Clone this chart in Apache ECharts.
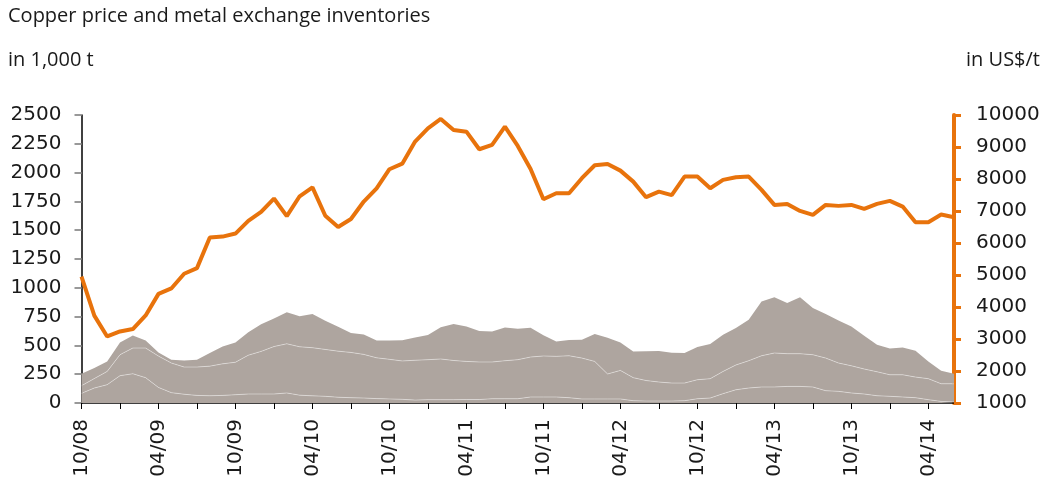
<!DOCTYPE html>
<html>
<head>
<meta charset="utf-8">
<script src="https://cdn.jsdelivr.net/npm/echarts@6/dist/echarts.min.js"></script>
<style>
  html, body { margin: 0; padding: 0; background: #fff; }
  #chart { width: 1047px; height: 482px; }
</style>
</head>
<body>
<div id="chart"></div>
<script>
// months 10/08 .. 06/14
var months = [];
for (var i = 0; i < 69; i++) {
  var m = (9 + i) % 12 + 1;
  var y = 8 + Math.floor((9 + i) / 12);
  months.push((m < 10 ? '0' + m : '' + m) + '/' + (y < 10 ? '0' + y : '' + y));
}

// inventories, 1,000 t (three stacked exchanges, bottom to top)
var stockLayer1 = [84, 130, 159, 237, 254, 220, 135, 90, 76, 66, 63, 66, 72, 78, 78, 78, 87, 68, 62, 58,
  50, 46, 43, 38, 35, 32, 25, 29, 29, 29, 30, 30, 37, 37, 37, 52, 52, 52, 46, 35,
  35, 35, 35, 20, 17, 17, 17, 20, 37, 43, 81, 115, 130, 139, 139, 144, 144, 139, 107, 101,
  87, 78, 63, 58, 52, 46, 29, 14, 9];
var stockLayer2 = [66, 82, 115, 182, 223, 257, 272, 257, 236, 246, 257, 274, 282, 337, 370, 412, 427, 420, 418, 407,
  400, 393, 379, 354, 344, 333, 346, 347, 353, 340, 331, 326, 319, 330, 339, 347, 356, 353, 364, 355,
  326, 217, 248, 200, 178, 165, 156, 153, 165, 168, 193, 215, 237, 271, 295, 284, 284, 280, 283, 246,
  236, 217, 208, 187, 193, 179, 182, 153, 158];
var stockLayer3 = [104, 91, 87, 107, 109, 66, 32, 29, 57, 64, 114, 151, 172, 199, 236, 244, 274, 266, 293, 250,
  212, 168, 173, 150, 164, 180, 197, 215, 275, 316, 303, 268, 264, 289, 268, 254, 181, 129, 136, 158,
  239, 315, 243, 228, 255, 269, 264, 260, 284, 301, 318, 320, 355, 471, 485, 439, 491, 405, 382, 369,
  341, 289, 235, 229, 237, 228, 150, 113, 87];

// copper price, US$/t
var copperPrice = [4950, 3730, 3080, 3235, 3310, 3735, 4410, 4580, 5040, 5215, 6170, 6200, 6295, 6690, 6970, 7390, 6840, 7460, 7740, 6850,
  6500, 6750, 7295, 7710, 8305, 8480, 9170, 9585, 9876, 9532, 9479, 8930, 9064, 9636, 9033, 8315, 7369, 7556, 7556, 8025,
  8430, 8471, 8262, 7918, 7431, 7606, 7494, 8075, 8075, 7712, 7972, 8056, 8075, 7659, 7191, 7222, 7003, 6879, 7191, 7160,
  7191, 7066, 7222, 7316, 7138, 6651, 6651, 6888, 6807];

var gray = '#aea59f';
var orange = '#e8730c';
var txt = '#1a1a1a';
var tickFont = 'DejaVu Sans';
var headFont = '20px "Open Sans"';

var chart = echarts.init(document.getElementById('chart'));

function stockSeries(name, data, showLine) {
  return {
    name: name,
    type: 'line',
    stack: 'stocks',
    data: data,
    symbol: 'none',
    yAxisIndex: 0,
    lineStyle: showLine ? { color: 'rgba(255,255,255,0.4)', width: 1 } : { width: 0 },
    areaStyle: { color: gray, opacity: 1 }
  };
}

function plain(v) { return String(v); }

var option = {
  animation: false,
  grid: { left: 81.5, right: 93, top: 115, bottom: 79, containLabel: false },
  graphic: [
    { type: 'text', left: 8, top: 6, style: { text: 'Copper price and metal exchange inventories', font: headFont, fill: txt } },
    { type: 'text', left: 8, top: 50, style: { text: 'in 1,000 t', font: headFont, fill: txt } },
    { type: 'text', right: 7, top: 50, style: { text: 'in US$/t', font: headFont, fill: txt } }
  ],
  xAxis: {
    type: 'category',
    data: months,
    boundaryGap: false,
    axisLine: { lineStyle: { color: '#000', width: 1.5 } },
    axisTick: { interval: 2, length: 6, lineStyle: { color: '#000' } },
    axisLabel: { interval: 5, rotate: 90, margin: 16, color: txt, fontFamily: tickFont, fontSize: 20 },
    splitLine: { show: false }
  },
  yAxis: [{
    type: 'value',
    min: 0,
    max: 2500,
    interval: 250,
    position: 'left',
    axisLine: { show: true, lineStyle: { color: '#000', width: 1.5 } },
    axisTick: { show: true, length: 7, lineStyle: { color: '#999', width: 2 } },
    axisLabel: { margin: 20, color: txt, fontFamily: tickFont, fontSize: 20, formatter: plain },
    splitLine: { show: false }
  }, {
    type: 'value',
    min: 1000,
    max: 10000,
    interval: 1000,
    position: 'right',
    axisLine: { show: true, lineStyle: { color: orange, width: 4 } },
    axisTick: { show: true, length: 7, lineStyle: { color: orange, width: 3 } },
    axisLabel: { margin: 22, color: txt, fontFamily: tickFont, fontSize: 20, formatter: plain },
    splitLine: { show: false }
  }],
  series: [
    stockSeries('Layer 1', stockLayer1, true),
    stockSeries('Layer 2', stockLayer2, true),
    stockSeries('Layer 3', stockLayer3, false),
    {
      name: 'Copper price',
      type: 'line',
      yAxisIndex: 1,
      data: copperPrice,
      symbol: 'none',
      lineStyle: { color: orange, width: 4 },
      z: 5
    }
  ]
};
chart.setOption(option);
</script>
</body>
</html>
